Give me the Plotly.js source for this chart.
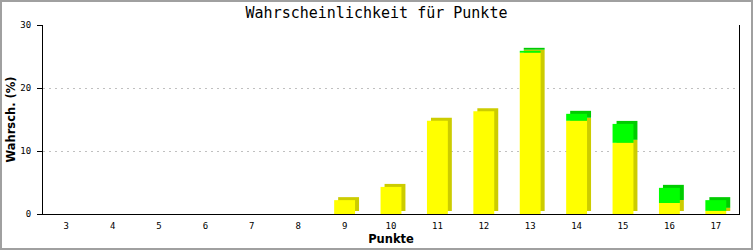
<!DOCTYPE html>
<html>
<head>
<meta charset="utf-8">
<script src="https://cdn.plot.ly/plotly-3.0.1.min.js"></script>
<style>
  html, body { margin: 0; padding: 0; background: #fff; }
  #wrap { position: relative; width: 753px; height: 250px; }
  #chart { position: absolute; left: 0; top: 0; width: 753px; height: 250px; }
  #frame { position: absolute; left: 0; top: 0; width: 753px; height: 250px; box-sizing: border-box; border: 2px solid #a0a0a0; pointer-events: none; }
</style>
</head>
<body>
<div id="wrap"><div id="chart"></div><div id="frame"></div></div>
<script>
// Data
const categories = ['3','4','5','6','7','8','9','10','11','12','13','14','15','16','17'];
const yellowValues = [0,0,0,0,0,0,2.2,4.3,14.8,16.3,25.6,14.8,11.3,1.75,0.5];
const greenValues  = [0,0,0,0,0,0,0,0,0,0,0.3,1.1,3.0,2.4,1.7];
const yTicks = [0,10,20,30];

// Layout geometry
const W = 753, H = 250;
const margin = {l: 43, r: 14, t: 25, b: 36};
const yMax = 30;
const plotW = W - margin.l - margin.r;
const plotH = H - margin.t - margin.b;
const pxPerCat = plotW / categories.length;
const pxPerUnit = plotH / yMax;
const barW = 0.45;
const depthX = 4 / pxPerCat;     // 3D side depth in category units
const depthY = 3 / pxPerUnit;    // 3D top depth in data units

const greenBase = yellowValues.slice();
const shadowYellowBase = yellowValues.map(() => depthY);
const shadowGreenBase = yellowValues.map(v => v + depthY);

const common = {type: 'bar', x: categories, width: barW, hoverinfo: 'skip', marker: {line: {width: 0}}};

const traces = [
  Object.assign({}, common, {y: yellowValues, base: shadowYellowBase, offset: -barW/2 + depthX, marker: {color: '#cccc00', line: {width: 0}}}),
  Object.assign({}, common, {y: greenValues, base: shadowGreenBase, offset: -barW/2 + depthX, marker: {color: '#00cc00', line: {width: 0}}}),
  Object.assign({}, common, {y: yellowValues, base: 0, offset: -barW/2, marker: {color: '#ffff00', line: {width: 0}}}),
  Object.assign({}, common, {y: greenValues, base: greenBase, offset: -barW/2, marker: {color: '#00ff00', line: {width: 0}}})
];

const layout = {
  width: W, height: H,
  margin: margin,
  paper_bgcolor: '#ffffff', plot_bgcolor: '#ffffff',
  barmode: 'overlay',
  showlegend: false,
  title: {
    text: 'Wahrscheinlichkeit für Punkte',
    font: {family: 'DejaVu Sans Mono', size: 15, color: '#000'},
    x: 0.5, xanchor: 'center', xref: 'container',
    y: 1 - 13/H, yanchor: 'middle', yref: 'container'
  },
  xaxis: {
    type: 'category',
    range: [-0.5, categories.length - 0.5],
    showline: true, linecolor: '#000', linewidth: 1,
    ticks: '', showgrid: false, zeroline: false,
    ticklabelstandoff: 3,
    tickfont: {family: 'DejaVu Sans Mono', size: 9, color: '#000'},
    title: {text: 'Punkte', font: {family: 'DejaVu Sans', size: 11.5, color: '#000', weight: 'bold'}, standoff: 5}
  },
  yaxis: {
    range: [0, yMax],
    tickvals: yTicks, ticktext: yTicks.map(String),
    showline: true, mirror: true, linecolor: '#000', linewidth: 1,
    ticks: 'outside', ticklen: 5, tickcolor: '#000', tickwidth: 1,
    ticklabelstandoff: 4,
    showgrid: true, gridcolor: '#c0c0c0', griddash: '2px,4px', gridwidth: 1,
    zeroline: false,
    tickfont: {family: 'DejaVu Sans Mono', size: 9, color: '#000'},
    title: {text: 'Wahrsch. (%)', font: {family: 'DejaVu Sans', size: 11.5, color: '#000', weight: 'bold'}, standoff: 2}
  }
};

Plotly.newPlot('chart', traces, layout, {staticPlot: true, displayModeBar: false});
</script>
</body>
</html>
